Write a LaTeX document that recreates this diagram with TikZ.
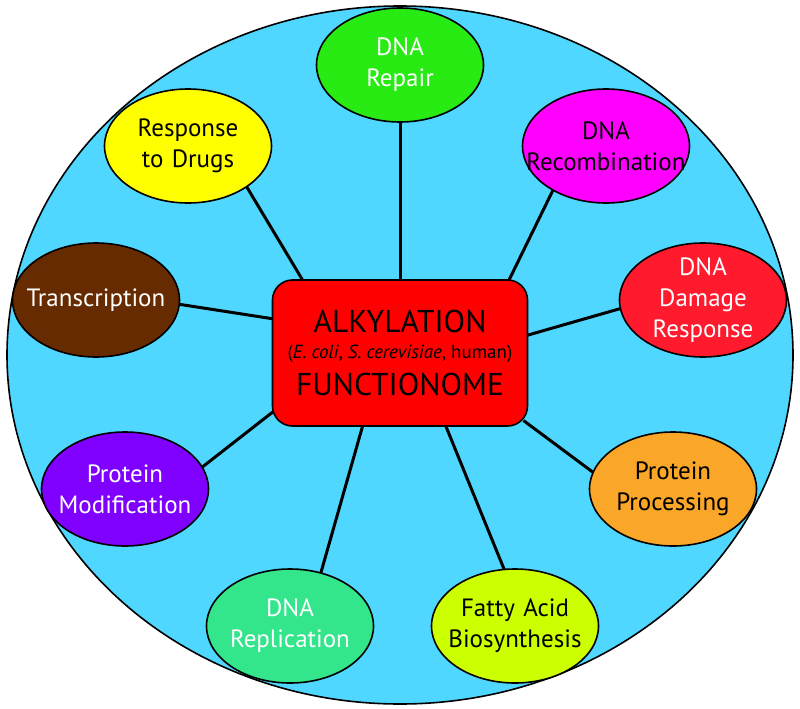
\documentclass[tikz,border=0pt]{standalone}
\usepackage{fontspec}
\setmainfont{PT Sans}
\usetikzlibrary{shapes.geometric}
\definecolor{Disc}{HTML}{50D7FF}
\definecolor{HubRed}{HTML}{FF0000}
\definecolor{RepairGreen}{HTML}{28EB14}
\definecolor{DrugYellow}{HTML}{FFFF00}
\definecolor{RecombPink}{HTML}{FF00FF}
\definecolor{TranscBrown}{HTML}{662B00}
\definecolor{DamageRed}{HTML}{FF1A2E}
\definecolor{ModPurple}{HTML}{7F00FF}
\definecolor{ProcOrange}{HTML}{FAA628}
\definecolor{ReplGreen}{HTML}{33E68C}
\definecolor{FattyLime}{HTML}{CCFF00}
\pgfdeclarelayer{disc}
\pgfdeclarelayer{links}
\pgfsetlayers{disc,links,main}

\begin{document}
\begin{tikzpicture}[x=1pt,y=-1pt,
  topic/.style={ellipse,draw=black,line width=1.6pt,minimum width=167pt,minimum height=114pt,
    text width=170pt,align=center,inner xsep=-26pt,inner ysep=-10pt,font=\fontsize{25}{31}\selectfont},
  hub/.style={rectangle,rounded corners=20pt,draw=black,line width=1.6pt,fill=HubRed,
    minimum width=255pt,minimum height=146pt,align=center,font=\fontsize{31.5}{33}\selectfont},
  link/.style={line width=3pt,shorten <=-6pt,shorten >=-6pt}]
\useasboundingbox (0,0) rectangle (800,709);
\begin{pgfonlayer}{disc}
\draw[fill=Disc,line width=1.6pt] (400,355) ellipse (393 and 349);
\end{pgfonlayer}
% hub
\node[hub] (core) at (400,353) {ALKYLATION\\[-7pt]{\fontsize{19}{19}\selectfont(\textit{E. coli}, \textit{S. cerevisiae}, human)}\\[4pt]FUNCTIONOME};
% ring of functions
\node[topic,fill=RepairGreen,text=white] (repair) at (400,65) {DNA\\Repair};
\node[topic,fill=DrugYellow] (drugs) at (188,146) {Response\\to Drugs};
\node[topic,fill=RecombPink] (recomb) at (606,146) {DNA\\Recombination};
\node[topic,fill=TranscBrown,text=white] (transc) at (96,300) {Transcription};
\node[topic,fill=DamageRed,text=white] (damage) at (703,300) {DNA\\Damage\\Response};
\node[topic,fill=ModPurple,text=white] (protmod) at (125,489) {Protein\\Modification};
\node[topic,fill=ProcOrange] (protproc) at (673,489) {Protein\\Processing};
\node[topic,fill=ReplGreen,text=white] (repl) at (290,626) {DNA\\Replication};
\node[topic,fill=FattyLime] (fatty) at (515,626) {Fatty Acid\\Biosynthesis};
% spokes
\begin{pgfonlayer}{links}
\draw[link] (repair.south) -- (core.90);
\draw[link] (drugs.-35) -- (core.143);
\draw[link] (recomb.220) -- (core.34.5);
\draw[link] (transc.-3) -- (core.165);
\draw[link] (damage.186) -- (core.8.4);
\draw[link] (protmod.16) -- (core.205);
\draw[link] (protproc.168) -- (core.331);
\draw[link] (repl.60) -- (core.243);
\draw[link] (fatty.101) -- (core.302);
\end{pgfonlayer}
\end{tikzpicture}
\end{document}
